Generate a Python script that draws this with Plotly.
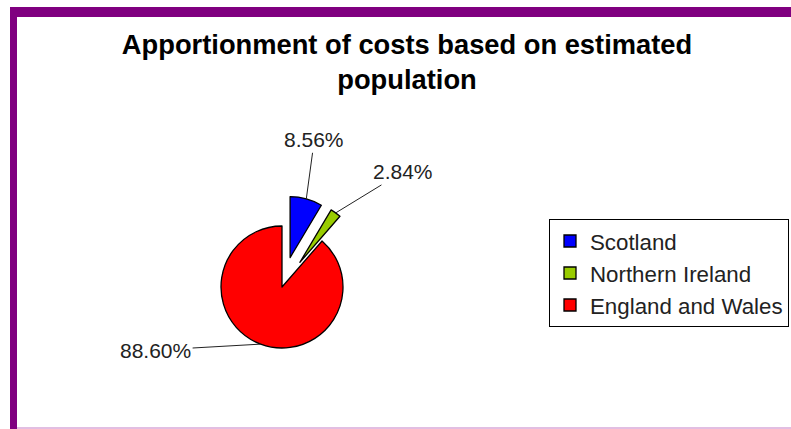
import math
import plotly.graph_objects as go

# ---- data ----
regions = ["Scotland", "Northern Ireland", "England and Wales"]
shares = [8.56, 2.84, 88.60]
colors = ["#0000FF", "#99CC00", "#FF0000"]
title_text = "Apportionment of costs based on estimated<br>population"

# ---- layout constants (pixels) ----
W, H = 791, 429
cx, cy, R = 282, 287, 61
pulls = [0.5, 0.5, 0.0]
side = 2 * R * (1 + max(pulls))
FONT = "Liberation Sans, Arial, sans-serif"

dom_x = [(cx - side / 2) / W, (cx + side / 2) / W]
dom_y = [1 - (cy + side / 2) / H, 1 - (cy - side / 2) / H]

fig = go.Figure(
    go.Pie(
        labels=regions,
        values=shares,
        sort=False,
        direction="clockwise",
        rotation=0,
        pull=pulls,
        marker=dict(colors=colors, line=dict(color="black", width=1.3)),
        textinfo="none",
        hoverinfo="label+percent",
        domain=dict(x=dom_x, y=dom_y),
    )
)

# leader-line labels anchored at each slice's outer mid-point
label_offsets = [(8, -59), (67, -41), (-105, 6)]
total = sum(shares)
cum = 0.0
annotations = []
for v, p, (ax, ay) in zip(shares, pulls, label_offsets):
    theta = 2 * math.pi * (cum + v / 2) / total
    cum += v
    rho = R * (1 + p)
    px = cx + rho * math.sin(theta)
    py = cy - rho * math.cos(theta)
    annotations.append(
        dict(
            x=px / W, y=1 - py / H, xref="paper", yref="paper",
            text=f"{v / total * 100:.2f}%",
            showarrow=True, arrowhead=0, arrowwidth=1, arrowcolor="#222",
            ax=ax, ay=ay, standoff=0, startstandoff=0,
            font=dict(family=FONT, size=21, color="#222"),
        )
    )

shapes = [
    # purple frame (left and top), light bottom line
    dict(type="rect", xref="paper", yref="paper", x0=10 / W, x1=17 / W,
         y0=0, y1=1 - 7 / H, fillcolor="#800080", line_width=0, layer="below"),
    dict(type="rect", xref="paper", yref="paper", x0=10 / W, x1=1,
         y0=1 - 17 / H, y1=1 - 7 / H, fillcolor="#800080", line_width=0, layer="below"),
    dict(type="line", xref="paper", yref="paper", x0=17 / W, x1=1,
         y0=1 - 428 / H, y1=1 - 428 / H, line=dict(color="#D8A8D8", width=1.5)),
]

fig.update_layout(
    width=W, height=H,
    margin=dict(l=0, r=0, t=0, b=0),
    paper_bgcolor="white",
    plot_bgcolor="white",
    font=dict(family=FONT, color="black"),
    title=dict(
        text=f"<b>{title_text}</b>",
        x=407 / W, xanchor="center", xref="paper",
        y=1 - 54 / H, yanchor="top", yref="container",
        font=dict(family=FONT, size=27.3, color="black"),
    ),
    showlegend=True,
    legend=dict(
        x=789 / W, xanchor="right", y=1 - 219 / H, yanchor="top",
        bordercolor="black", borderwidth=1, bgcolor="white",
        font=dict(family=FONT, size=22.3, color="#222"),
        traceorder="normal",
    ),
    annotations=annotations,
    shapes=shapes,
)

fig.write_html(
    "out.html",
    config={"displayModeBar": False},
    post_script="document.body.style.margin='0';document.body.style.padding='0';",
)
